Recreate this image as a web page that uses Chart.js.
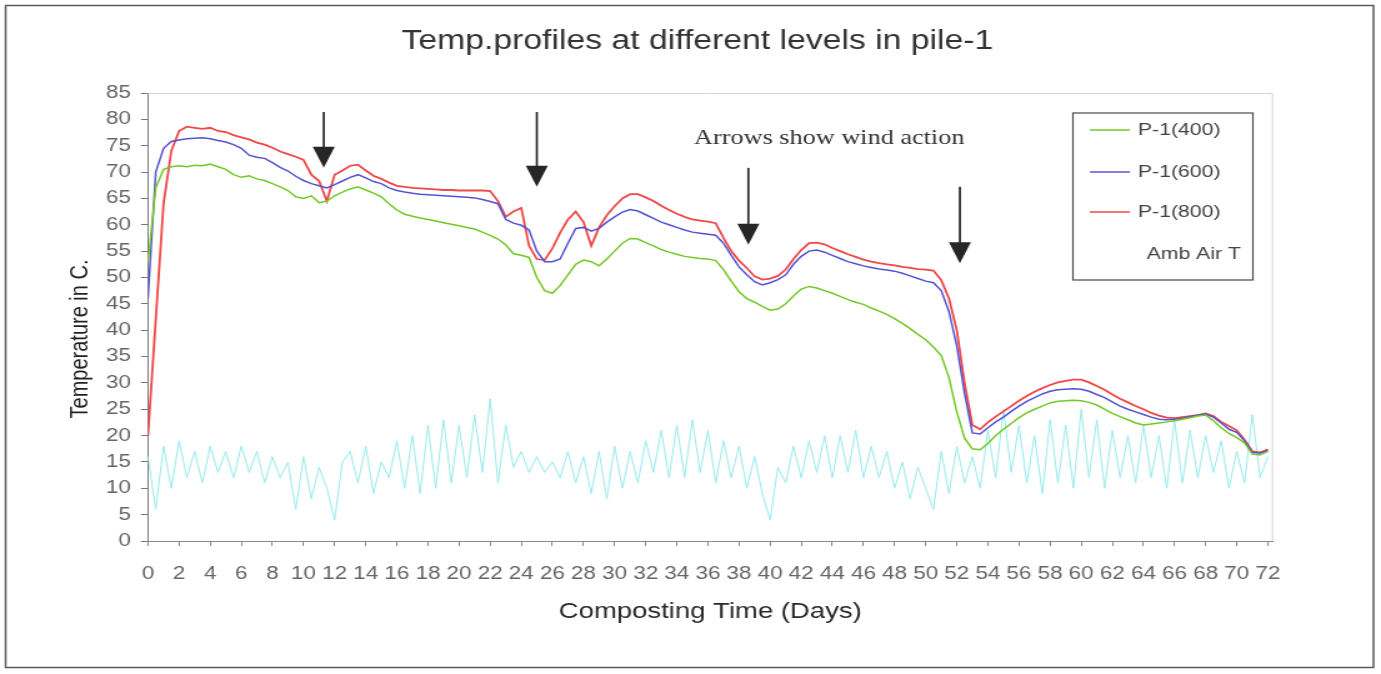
<!DOCTYPE html>
<html>
<head>
<meta charset="utf-8">
<script src="https://cdn.jsdelivr.net/npm/chart.js@4.4.1/dist/chart.umd.min.js"></script>
<style>
html, body { margin: 0; padding: 0; background: #fff; overflow: hidden; }
#wrap { width: 1105px; height: 674px; transform: scaleX(1.24977); transform-origin: 0 0; }
canvas { display: block; }
</style>
</head>
<body>
<div id="wrap"><canvas id="c" width="1105" height="674"></canvas></div>
<script>
// ---------------- data ----------------
const chartTitle = 'Temp.profiles at different levels in pile-1';
const xAxisTitle = 'Composting Time (Days)';
const yAxisTitle = 'Temperature in C.';
const noteText = 'Arrows show wind action';

const days = [
  0,0.5,1,1.5,2,2.5,3,3.5,4,4.5,5,5.5,
  6,6.5,7,7.5,8,8.5,9,9.5,10,10.5,11,11.5,
  12,12.5,13,13.5,14,14.5,15,15.5,16,16.5,17,17.5,
  18,18.5,19,19.5,20,20.5,21,21.5,22,22.5,23,23.5,
  24,24.5,25,25.5,26,26.5,27,27.5,28,28.5,29,29.5,
  30,30.5,31,31.5,32,32.5,33,33.5,34,34.5,35,35.5,
  36,36.5,37,37.5,38,38.5,39,39.5,40,40.5,41,41.5,
  42,42.5,43,43.5,44,44.5,45,45.5,46,46.5,47,47.5,
  48,48.5,49,49.5,50,50.5,51,51.5,52,52.5,53,53.5,
  54,54.5,55,55.5,56,56.5,57,57.5,58,58.5,59,59.5,
  60,60.5,61,61.5,62,62.5,63,63.5,64,64.5,65,65.5,
  66,66.5,67,67.5,68,68.5,69,69.5,70,70.5,71,71.5,
  72
];

const p400 = [
  53,67, 70.5,71, 71.2,71, 71.3,71.2, 71.5,71, 70.5,69.5,
  69,69.3, 68.7,68.4, 67.8,67.2, 66.5,65.3, 65,65.5, 64.2,64.5,
  65.5,66.2, 66.8,67.2, 66.6,66, 65.3,64, 62.8,62, 61.6,61.3,
  61,60.7, 60.4,60.1, 59.8,59.5, 59.2,58.6, 58,57.3, 56.2,54.5,
  54.2,53.8, 50,47.5, 47,48.5, 50.5,52.5, 53.3,53, 52.2,53.5,
  55,56.5, 57.4,57.3, 56.6,56, 55.3,54.8, 54.4,54, 53.8,53.6,
  53.5,53.2, 51.5,49.3, 47.3,46, 45.3,44.5, 43.8,44, 45,46.5,
  47.8,48.3, 48,47.5, 47,46.4, 45.8,45.3, 44.9,44.2, 43.6,43,
  42.2,41.3, 40.3,39.2, 38.2,36.8, 35.2,31, 24.5,19.5, 17.5,17.3,
  18.5,20, 21.2,22.3, 23.4,24.3, 25,25.6, 26.2,26.5, 26.6,26.7,
  26.6,26.3, 25.8,25, 24.2,23.6, 23,22.4, 22,22.2, 22.4,22.6,
  22.8,23.1, 23.4,23.7, 23.9,22.8, 21.5,20.4, 19.6,18.6, 16.5,16.3,
  17
];

const p600 = [
  46,70, 74.5,75.8, 76.1,76.3, 76.4,76.5, 76.3,76, 75.7,75.2,
  74.5,73.2, 72.8,72.6, 71.8,70.9, 70.2,69.2, 68.4,67.8, 67.4,67,
  67.6,68.3, 69,69.5, 68.9,68.2, 67.8,67, 66.5,66.2, 66,65.8,
  65.7,65.6, 65.5,65.4, 65.3,65.2, 65.1,64.8, 64.4,64, 61,60.3,
  59.9,59, 55,53, 53,53.5, 56.5,59.3, 59.5,58.8, 59.3,60.5,
  61.5,62.4, 62.9,62.6, 61.9,61.2, 60.5,60, 59.5,59, 58.6,58.4,
  58.2,58, 56.5,54.2, 52,50.5, 49.2,48.6, 49,49.6, 50.5,52.5,
  54,55, 55.2,54.8, 54.2,53.6, 53,52.6, 52.2,51.9, 51.6,51.4,
  51.2,50.8, 50.3,49.8, 49.3,49, 47.5,43.5, 37,28, 20.5,20.3,
  21.5,22.6, 23.5,24.6, 25.6,26.5, 27.2,27.9, 28.4,28.7, 28.8,28.9,
  28.8,28.4, 27.8,27.2, 26.4,25.6, 25,24.5, 24,23.5, 23.1,23,
  23.1,23.3, 23.6,23.9, 24.1,23.5, 22.4,21.2, 20.6,19, 16.8,16.7,
  17.2
];

const p800 = [
  20,42, 64,74, 77.8,78.6, 78.4,78.2, 78.4,77.8, 77.6,77,
  76.6,76.2, 75.6,75.2, 74.6,73.9, 73.4,72.9, 72.3,69.5, 68.3,64.5,
  69.5,70.3, 71.2,71.4, 70.3,69.3, 68.7,68, 67.4,67.2, 67,66.9,
  66.8,66.7, 66.6,66.6, 66.5,66.5, 66.5,66.5, 66.4,64.5, 61.5,62.5,
  63.2,56, 53.5,53.3, 55.5,58.5, 61,62.5, 60.5,56, 59.5,61.8,
  63.5,65, 65.8,65.8, 65.2,64.5, 63.6,62.8, 62.1,61.5, 61,60.8,
  60.6,60.3, 57.5,55, 53.2,51.8, 50.2,49.6, 49.8,50.3, 51.5,53.5,
  55.2,56.5, 56.6,56.3, 55.6,55, 54.4,53.9, 53.4,53, 52.7,52.5,
  52.3,52, 51.8,51.6, 51.5,51.3, 49.5,46, 40,30, 22,21.2,
  22.5,23.6, 24.6,25.6, 26.6,27.5, 28.3,29, 29.6,30.1, 30.4,30.6,
  30.6,30.1, 29.4,28.7, 27.8,27, 26.3,25.6, 25,24.3, 23.8,23.4,
  23.3,23.5, 23.7,23.9, 24.2,23.7, 22.6,21.8, 21,19.2, 17,16.8,
  17.4
];

const ambAir = [
  16,6, 18,10, 19,12, 17,11, 18,13, 17,12,
  18,13, 17,11, 16,12, 15,6, 16,8, 14,10,
  4,15, 17,11, 18,9, 15,12, 19,10, 20,9,
  22,10, 23,11, 22,12, 24,13, 27,11, 22,14,
  17,13, 16,13, 15,12, 17,11, 16,9, 17,8,
  18,10, 17,11, 19,13, 21,12, 22,12, 23,13,
  21,11, 19,12, 18,10, 16,9, 4,14, 11,18,
  12,19, 13,20, 12,20, 13,21, 12,18, 12,17,
  10,15, 8,14, 10,6, 17,9, 18,11, 16,10,
  21,12, 25,13, 22,11, 20,9, 23,11, 22,10,
  25,12, 23,10, 21,12, 20,11, 22,12, 20,10,
  23,11, 21,12, 20,13, 19,10, 17,11, 24,12,
  16
];

const xTickValues = [0,2,4,6,8,10,12,14,16,18,20,22,24,26,28,30,32,34,36,38,40,42,44,46,48,50,52,54,56,58,60,62,64,66,68,70,72];
const yTickValues = [0,5,10,15,20,25,30,35,40,45,50,55,60,65,70,75,80,85];

// wind-action arrows (day, temperature at arrow top, temperature at arrow tip)
const arrowDays = [11.3, 25.0, 38.6, 52.2];
const arrowTopTemp = [81.4, 81.4, 70.8, 67.2];
const arrowTipTemp = [70.8, 67.2, 56.2, 52.7];
const noteDay = 43.8;
const noteTemp = 76.3;

// ---------------- styles ----------------
const FONT = "'Liberation Sans', Arial, sans-serif";
const colors = { p400: '#74c928', p600: '#5454d2', p800: '#f04848', amb: '#98ebec' };

const pts = (vals) => days.map((d, i) => ({ x: d, y: vals[i] }));

const decor = {
  id: 'decor',
  beforeDraw(chart) {
    const c = chart.ctx;
    c.save(); c.fillStyle = '#fff'; c.fillRect(0, 0, chart.width, chart.height); c.restore();
  },
  beforeDatasetsDraw(chart) {
    const { ctx, chartArea: a } = chart;
    ctx.save();
    ctx.strokeStyle = '#d6d6d6'; ctx.lineWidth = 1;
    ctx.beginPath();
    ctx.moveTo(a.left, a.top + 0.5); ctx.lineTo(a.right, a.top + 0.5); ctx.lineTo(a.right, a.bottom);
    ctx.stroke();
    ctx.restore();
  },
  afterDraw(chart) {
    const { ctx, chartArea: a, scales: { x, y } } = chart;
    ctx.save();
    // outer frame
    ctx.strokeStyle = '#5a5a5a'; ctx.lineWidth = 1.5;
    ctx.strokeRect(4.5, 5.5, 1094.5, 662);
    // chart title
    ctx.fillStyle = '#333'; ctx.font = '27px ' + FONT;
    ctx.textAlign = 'center'; ctx.textBaseline = 'middle';
    ctx.fillText(chartTitle, 558, 42);
    // y axis title
    ctx.save();
    ctx.translate(64.8, 339); ctx.rotate(-Math.PI / 2);
    ctx.font = '20px ' + FONT; ctx.fillStyle = '#222';
    ctx.fillText(yAxisTitle, 0, 0);
    ctx.restore();
    // arrows
    ctx.fillStyle = '#262626'; ctx.strokeStyle = '#262626'; ctx.lineWidth = 1.7;
    arrowDays.forEach((d, i) => {
      const px = x.getPixelForValue(d);
      const top = y.getPixelForValue(arrowTopTemp[i]);
      const tip = y.getPixelForValue(arrowTipTemp[i]);
      const hh = 21, hw = 8.8;
      ctx.beginPath(); ctx.moveTo(px, top); ctx.lineTo(px, tip - hh + 1); ctx.stroke();
      ctx.beginPath(); ctx.moveTo(px - hw, tip - hh); ctx.lineTo(px + hw, tip - hh); ctx.lineTo(px, tip); ctx.closePath(); ctx.fill();
    });
    // note text
    ctx.font = "21px 'Liberation Serif', 'Times New Roman', serif"; ctx.fillStyle = '#333';
    ctx.textAlign = 'center'; ctx.textBaseline = 'middle';
    ctx.fillText(noteText, x.getPixelForValue(noteDay), y.getPixelForValue(noteTemp));
    // legend box
    const bl = a.right - 159.7, bt = a.top + 20, bw = 144, bh = 167;
    ctx.strokeStyle = '#4a4a4a'; ctx.lineWidth = 1.2;
    ctx.strokeRect(bl, bt, bw, bh);
    const rowY = [17, 59, 99, 141];
    ctx.font = '17px ' + FONT; ctx.fillStyle = '#444'; ctx.textBaseline = 'middle';
    chart.data.datasets.forEach((ds, i) => {
      const yy = bt + rowY[i];
      if (i < 3) {
        ctx.strokeStyle = ds.borderColor; ctx.lineWidth = 1.4;
        ctx.beginPath(); ctx.moveTo(bl + 13.6, yy); ctx.lineTo(bl + 45.6, yy); ctx.stroke();
        ctx.textAlign = 'left';
        ctx.fillText(ds.label, bl + 52, yy);
      } else {
        ctx.textAlign = 'right';
        ctx.fillText(ds.label, bl + 134.5, yy);
      }
    });
    ctx.restore();
  }
};

new Chart(document.getElementById('c'), {
  type: 'line',
  data: {
    datasets: [
      { label: 'P-1(400)', data: pts(p400), borderColor: colors.p400, borderWidth: 1.5 },
      { label: 'P-1(600)', data: pts(p600), borderColor: colors.p600, borderWidth: 1.5 },
      { label: 'P-1(800)', data: pts(p800), borderColor: colors.p800, borderWidth: 1.8 },
      { label: 'Amb Air T', data: pts(ambAir), borderColor: colors.amb, borderWidth: 1.0 }
    ]
  },
  options: {
    responsive: false,
    animation: false,
    devicePixelRatio: 1,
    elements: { point: { radius: 0 }, line: { tension: 0 } },
    layout: { padding: { left: 0, right: 86.8, top: 93, bottom: 0 } },
    plugins: { legend: { display: false }, title: { display: false }, tooltip: { enabled: false } },
    scales: {
      x: {
        type: 'linear', min: 0, max: 72.3,
        afterFit: (s) => { s.height = 133; },
        afterBuildTicks: (s) => { s.ticks = xTickValues.map(v => ({ value: v })); },
        ticks: { autoSkip: false, maxRotation: 0, padding: 17, color: '#666', font: { family: FONT, size: 18 } },
        grid: { drawOnChartArea: false, drawTicks: true, tickLength: 5, color: '#888' },
        border: { display: true, color: '#8a8a8a', width: 1 },
        title: { display: true, text: xAxisTitle, color: '#2a2a2a', font: { family: FONT, size: 22 }, padding: { top: 0, bottom: 48.8 } }
      },
      y: {
        min: 0, max: 85,
        afterFit: (s) => { s.width = 118.4; },
        afterBuildTicks: (s) => { s.ticks = yTickValues.map(v => ({ value: v })); },
        ticks: { padding: 8, color: '#666', font: { family: FONT, size: 18 } },
        grid: { drawOnChartArea: false, drawTicks: true, tickLength: 5.6, color: '#777' },
        border: { display: true, color: '#7a7a7a', width: 1 }
      }
    }
  },
  plugins: [decor]
});
</script>
</body>
</html>
